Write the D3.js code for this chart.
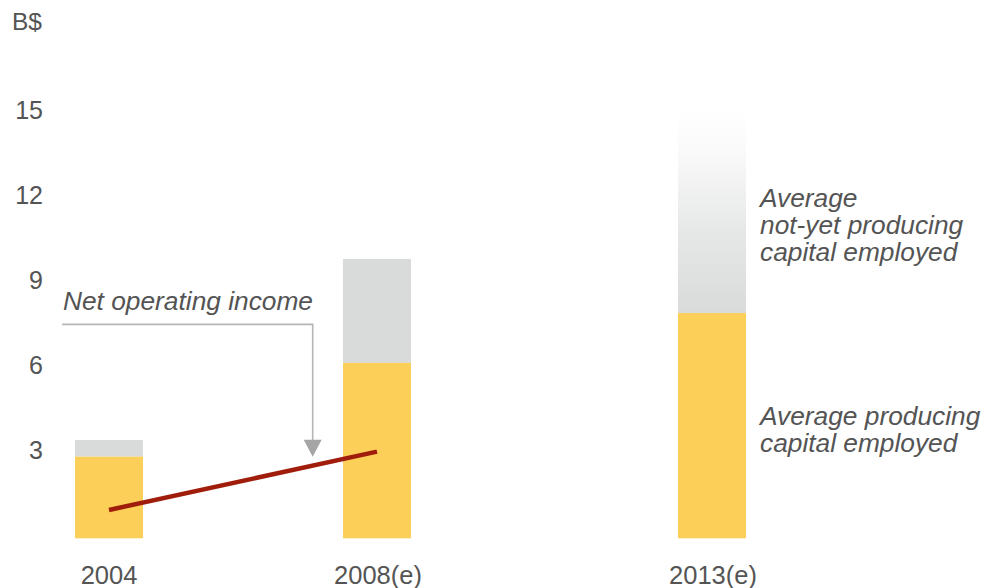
<!DOCTYPE html>
<html><head><meta charset="utf-8">
<script src="https://cdn.jsdelivr.net/npm/d3@7"></script>
<style>
body{margin:0;background:#fff;}
text{font-family:Arial,"Liberation Sans",sans-serif;fill:#545454;}
</style></head>
<body><svg id="c" width="985" height="588"></svg>
<script>
const years = [2004, 2008, 2013];
const yearLabels = ["2004", "2008(e)", "2013(e)"];
const producing = [2.88, 6.19, 7.95];
const total = [3.47, 9.86, 15.1];
const netIncomeYears = [2004, 2008];
const netIncome = [1.0, 3.06];
const yTicks = [3, 6, 9, 12, 15];

const svg = d3.select("#c");
const x = d3.scaleLinear().domain([2004, 2013]).range([109, 712]);
const y = d3.scaleLinear().domain([0, 15]).range([538.3, 113.3]);
const bw = 68;

const defs = svg.append("defs");
const g = defs.append("linearGradient").attr("id","fade").attr("x1",0).attr("y1",0).attr("x2",0).attr("y2",1);
g.append("stop").attr("offset","0%").attr("stop-color","#ffffff");
g.append("stop").attr("offset","20%").attr("stop-color","#fafafa");
g.append("stop").attr("offset","60%").attr("stop-color","#e6e7e7");
g.append("stop").attr("offset","100%").attr("stop-color","#d9dbda");

// gray (not-yet producing) bars
svg.selectAll("rect.ny").data(years).join("rect").attr("class","ny")
  .attr("x", d => x(d) - bw/2).attr("width", bw)
  .attr("y", (d,i) => y(total[i]))
  .attr("height", (d,i) => y(producing[i]) - y(total[i]))
  .attr("fill", (d,i) => i === 2 ? "url(#fade)" : "#d9dbda");

// yellow bars
svg.selectAll("rect.pr").data(years).join("rect").attr("class","pr")
  .attr("x", d => x(d) - bw/2).attr("width", bw)
  .attr("y", (d,i) => y(producing[i]))
  .attr("height", (d,i) => y(0) - y(producing[i]))
  .attr("fill", "#fbcf58");

// net operating income line
svg.append("path")
  .datum(netIncomeYears.map((d,i) => [d, netIncome[i]]))
  .attr("d", d3.line().x(d => x(d[0])).y(d => y(d[1])))
  .attr("stroke", "#a11d0b").attr("stroke-width", 4.5).attr("fill","none");

// y axis
const yAxis = d3.axisLeft(y).tickValues(yTicks).tickSize(0).tickPadding(0);
const ya = svg.append("g").attr("transform","translate(43,0)").call(yAxis);
ya.select(".domain").remove();
ya.selectAll("text").style("font-size","25px").attr("fill","#545454")
  .style("font-family","Arial,'Liberation Sans',sans-serif").attr("dy","0.19em");

svg.append("text").attr("x", 12).attr("y", 30).text("B$").style("font-size","24.5px");

// x labels
svg.selectAll("text.xl").data(years).join("text").attr("class","xl")
  .attr("x", (d,i) => x(d) + (i === 0 ? 0 : 1)).attr("y", 584).attr("text-anchor","middle")
  .style("font-size","25.5px")
  .text((d,i) => yearLabels[i]);

// annotation: net operating income arrow
const ax0 = 2003.3, ax1 = 2007.04, ayH = 7.55, ayTip = 2.88;
svg.append("path")
  .attr("d", `M${x(ax0)},${y(ayH)} H${x(ax1)} V${y(ayTip)-16}`)
  .attr("stroke","#b5b5b5").attr("stroke-width",1.6).attr("fill","none");
svg.append("path")
  .attr("d", `M${x(ax1)-9},${y(ayTip)-17} L${x(ax1)+9},${y(ayTip)-17} L${x(ax1)},${y(ayTip)} Z`)
  .attr("fill","#a5a5a5");
svg.append("text").attr("x", 63).attr("y", 310).text("Net operating income")
  .style("font-size","26.3px").style("font-style","italic");

// series labels
const lab = (lines, y0) => {
  lines.forEach((t,i) => svg.append("text").attr("x", 760).attr("y", y0 + i*26.8)
    .text(t).style("font-size","26.3px").style("font-style","italic"));
};
lab(["Average","not-yet producing","capital employed"], 207.3);
lab(["Average producing","capital employed"], 425);
</script></body></html>
